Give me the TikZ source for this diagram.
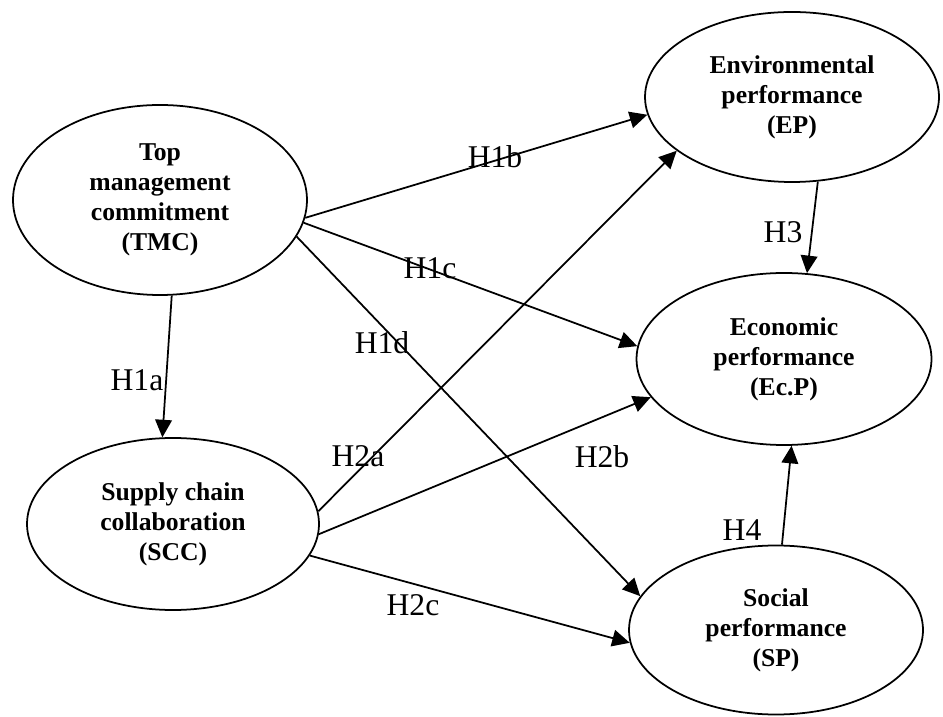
\documentclass[tikz,border=0pt]{standalone}
\usepackage{fontspec}
\setmainfont{Liberation Serif}
\usetikzlibrary{shapes.geometric}
\usetikzlibrary{arrows.meta}

\begin{document}
\begin{tikzpicture}[>/.tip={Triangle[length=10pt,width=9.5pt]},
	construct/.style={shape=ellipse,draw,line width=1pt,inner sep=0pt,align=center,font=\fontsize{14.6}{17}\selectfont\bfseries},
	hyp/.style={font=\fontsize{18}{20}\selectfont},
	link/.style={->,line width=1pt}]
	\useasboundingbox (0,0) rectangle (18.86,14.32);
	\draw (3.2,10.32) node (tmc) [construct,minimum width=5.88cm,minimum height=3.8cm] {Top\\management\\commitment\\(TMC)};
	\draw (15.84,12.38) node (ep) [construct,minimum width=5.88cm,minimum height=3.4cm] {Environmental\\performance\\(EP)};
	\draw (15.68,7.14) node (ecp) [construct,minimum width=5.9cm,minimum height=3.44cm] {Economic\\performance\\(Ec.P)};
	\draw (3.46,3.84) node (scc) [construct,minimum width=5.84cm,minimum height=3.44cm] {Supply chain\\collaboration\\(SCC)};
	\draw (15.52,1.72) node (sp) [construct,minimum width=5.88cm,minimum height=3.38cm] {Social\\performance\\(SP)};
	% paths
	\draw[link] (tmc.-83.4) -- (scc.97.5);
	\draw[link] (tmc.-7) -- (ep.-173.3);
	\draw[link] (tmc.-9) -- (ecp.175.3);
	\draw[link] (tmc.-15.5) -- (sp.166.8);
	\draw[link] (scc.5.5) -- (ep.205.7);
	\draw[link] (scc.-4.3) -- (ecp.196.4);
	\draw[link] (scc.-13.5) -- (sp.185.2);
	\draw[link] (ep.-73.2) -- (ecp.75);
	\draw[link] (sp.86) -- (ecp.-85);
	% hypotheses
	\draw (2.74,6.72) node (h1a) [hyp] {H1a};
	\draw (9.9,11.18) node (h1b) [hyp] {H1b};
	\draw (8.6,8.96) node (h1c) [hyp] {H1c};
	\draw (7.64,7.46) node (h1d) [hyp] {H1d};
	\draw (7.16,5.2) node (h2a) [hyp] {H2a};
	\draw (12.04,5.18) node (h2b) [hyp] {H2b};
	\draw (8.26,2.22) node (h2c) [hyp] {H2c};
	\draw (15.66,9.68) node (h3) [hyp] {H3};
	\draw (14.84,3.72) node (h4) [hyp] {H4};
\end{tikzpicture}
\end{document}
